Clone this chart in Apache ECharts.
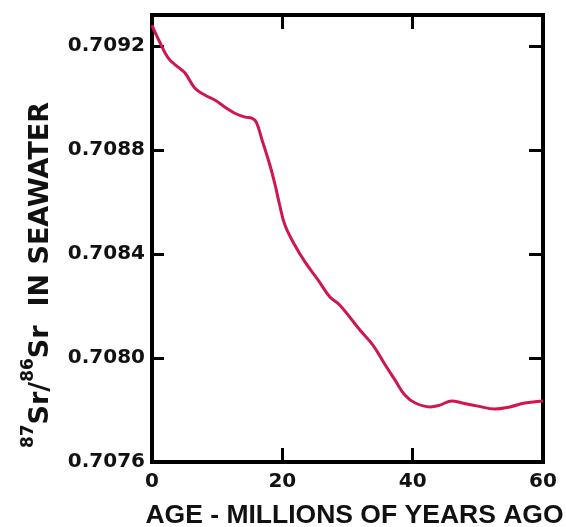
<!DOCTYPE html>
<html>
<head>
<meta charset="utf-8">
<script src="https://cdn.jsdelivr.net/npm/echarts@6/dist/echarts.min.js"></script>
<style>
html,body{margin:0;padding:0;background:#fff;}
#chart{width:566px;height:527px;}
</style>
</head>
<body>
<div id="chart"></div>
<script>
// Age (millions of years ago)
const ages = [0, 1.2, 2.5, 4.0, 5.1, 6.6, 8.1, 9.7, 11.2, 12.7, 14.3, 15.3, 16.0, 16.9, 18.1, 18.9, 19.6, 20.4, 21.9, 23.5, 25.5, 27.3, 28.8, 31.9, 33.9, 35.8, 37.3, 38.8, 40.4, 42.7, 44.2, 46.0, 47.6, 50.0, 52.6, 54.9, 57.2, 60];
// 87Sr/86Sr ratio in seawater
const ratios = [0.70928, 0.709215, 0.709154, 0.709119, 0.709096, 0.709038, 0.709012, 0.708992, 0.708965, 0.708942, 0.708927, 0.708923, 0.708908, 0.708838, 0.708742, 0.708665, 0.708588, 0.708512, 0.708435, 0.708369, 0.7083, 0.708235, 0.708204, 0.708108, 0.70805, 0.707973, 0.707915, 0.707858, 0.707827, 0.707812, 0.707819, 0.707835, 0.707827, 0.707815, 0.707804, 0.707812, 0.707827, 0.707835];
const xTicks = [0, 20, 40, 60];
const yTicks = ['0.7076', '0.7080', '0.7084', '0.7088', '0.7092'];
const xTitle = 'AGE - MILLIONS OF YEARS AGO';
const yTitle = '{sup|87}{b|Sr/}{sup|86}{b|Sr  IN SEAWATER}';

const chart = echarts.init(document.getElementById('chart'));
const tickFont = {fontFamily: 'DejaVu Sans', fontWeight: 'bold', fontSize: 20, color: '#111'};
const data = ages.map((a, i) => [a, ratios[i]]);
const tickStyle = {color: '#000', width: 3};
const lineSt = {show: true, onZero: false, lineStyle: {color: '#000', width: 4}};

chart.setOption({
  animation: false,
  backgroundColor: '#fff',
  grid: {left: 152, right: 23, top: 15, bottom: 65, show: true, borderColor: '#000', borderWidth: 4,
         containLabel: false, outerBoundsMode: 'none'},
  xAxis: [{
    type: 'value', position: 'bottom', min: xTicks[0], max: xTicks[xTicks.length - 1], interval: 20,
    axisLine: lineSt, splitLine: {show: false},
    axisTick: {show: true, inside: false, length: -14, lineStyle: tickStyle},
    axisLabel: Object.assign({margin: 10}, tickFont),
    name: xTitle, nameLocation: 'middle', nameGap: 40,
    nameTextStyle: {fontFamily: 'Liberation Sans', fontWeight: 'bold', fontSize: 26.5, color: '#111', padding: [0, 0, 0, 14]}
  }, {
    type: 'value', position: 'top', min: xTicks[0], max: xTicks[xTicks.length - 1], interval: 20,
    axisLine: lineSt, splitLine: {show: false},
    axisTick: {show: true, inside: false, length: -14, lineStyle: tickStyle},
    axisLabel: {show: false}
  }],
  yAxis: [{
    type: 'value', position: 'left', min: 0.7076, max: 0.70932, interval: 0.0004,
    axisLine: lineSt, splitLine: {show: false},
    axisTick: {show: true, inside: false, length: -12, lineStyle: tickStyle},
    axisLabel: Object.assign({margin: 7, showMaxLabel: false,
      formatter: v => { const s = v.toFixed(4); return yTicks.indexOf(s) >= 0 ? s : ''; }}, tickFont)
  }, {
    type: 'value', position: 'right', min: 0.7076, max: 0.70932, interval: 0.0004,
    axisLine: lineSt, splitLine: {show: false},
    axisTick: {show: true, inside: false, length: -14, lineStyle: tickStyle},
    axisLabel: {show: false}
  }],
  series: [{
    type: 'line', data: data, smooth: 0.4, showSymbol: false,
    lineStyle: {color: '#d0164e', width: 3}, itemStyle: {color: '#d0164e'}
  }],
  graphic: [{
    type: 'text', x: 41, y: 275, rotation: Math.PI / 2,
    style: {
      text: yTitle, align: 'center', verticalAlign: 'middle',
      rich: {
        b: {fontFamily: 'DejaVu Sans', fontWeight: 'bold', fontSize: 27, lineHeight: 27, verticalAlign: 'bottom', fill: '#111'},
        sup: {fontFamily: 'DejaVu Sans', fontWeight: 'bold', fontSize: 17, lineHeight: 17, padding: [0, 0, 17, 0], verticalAlign: 'bottom', fill: '#111'}
      }
    }
  }]
});
</script>
</body>
</html>
